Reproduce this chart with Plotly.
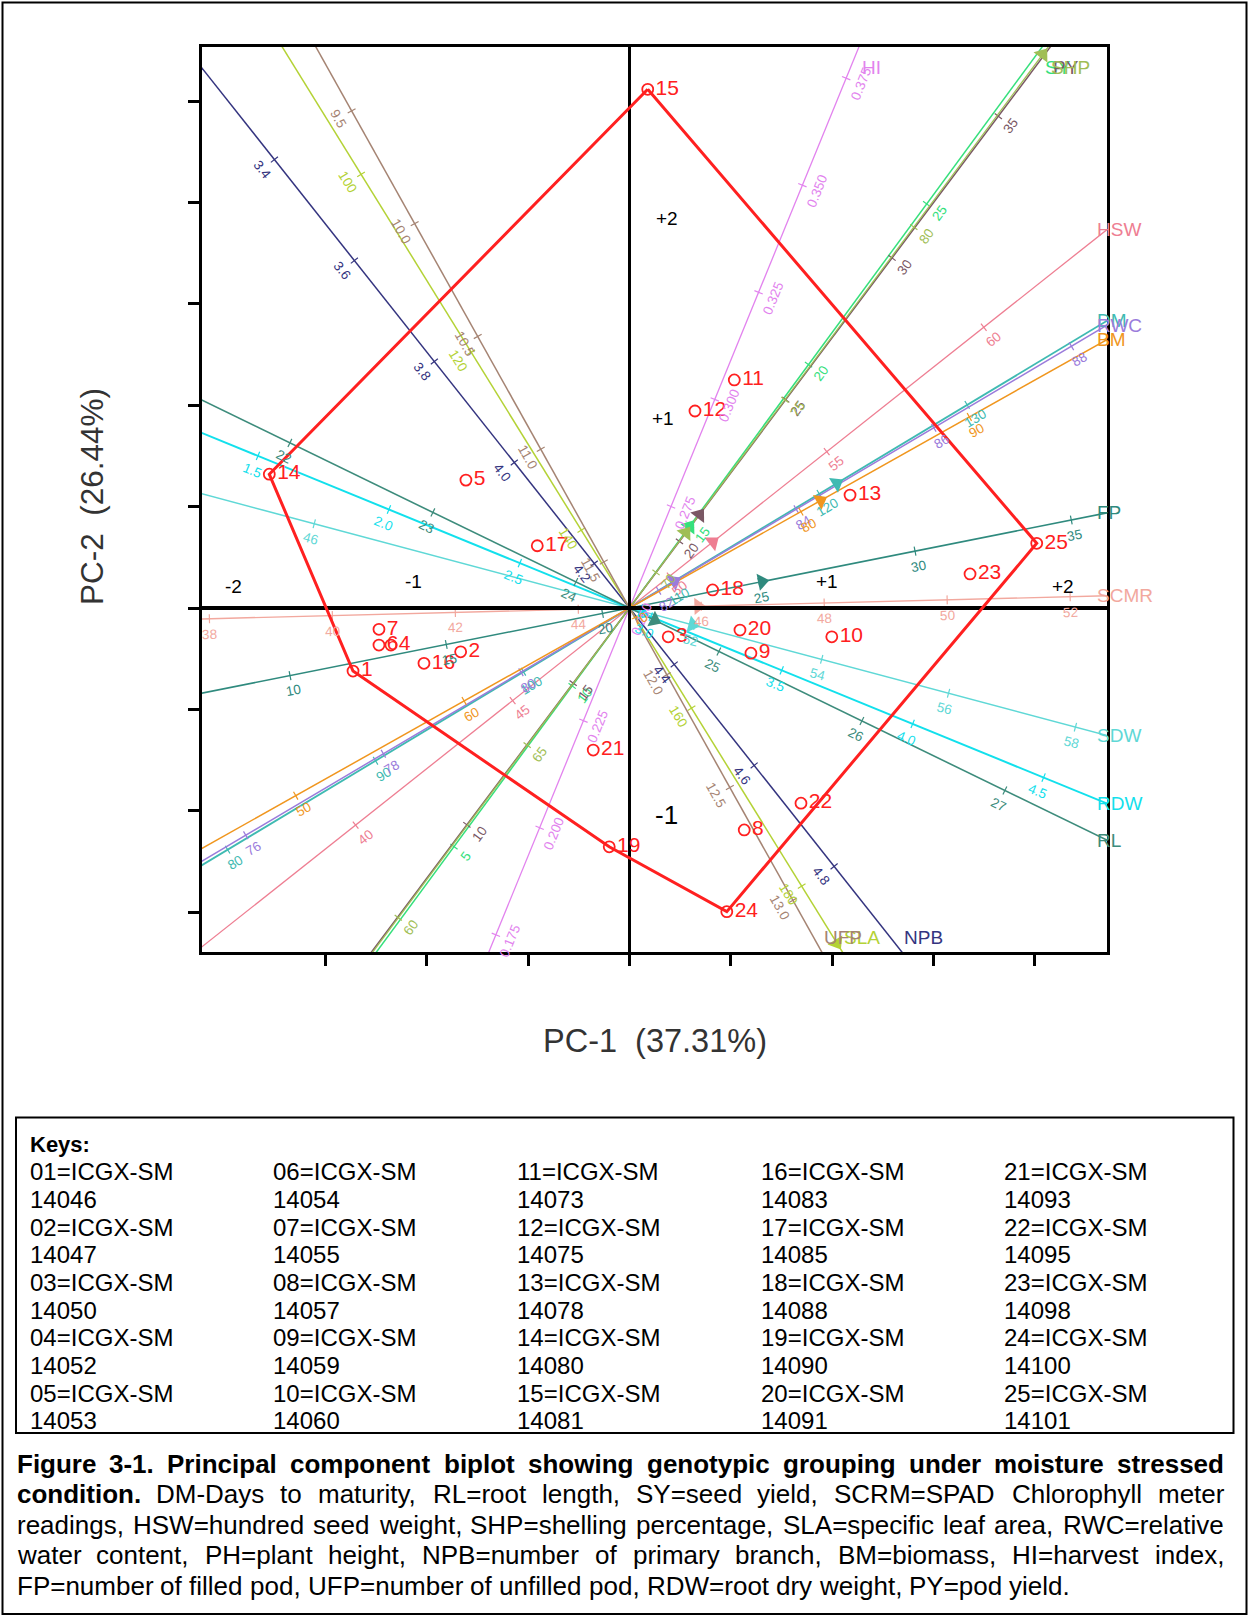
import math
import plotly.graph_objects as go

# ---------------- genotype scores (PC-1, PC-2) ----------------
genotype_ids = list(range(1, 26))
genotype_pc1 = [-1.364, -0.833, 0.191, -1.177, -0.807, -1.236, -1.236, 0.566, 0.599, 0.998,
                0.517, 0.323, 1.088, -1.777, 0.090, -1.014, -0.455, 0.410, -0.100, 0.545,
                -0.179, 0.846, 1.680, 0.480, 2.009]
genotype_pc2 = [-0.311, -0.216, -0.142, -0.183, 0.631, -0.183, -0.105, -1.095, -0.223, -0.142,
                1.125, 0.972, 0.557, 0.660, 2.559, -0.273, 0.307, 0.089, -1.178, -0.109,
                -0.701, -0.963, 0.168, -1.498, 0.319]
hull_ids = [15, 25, 24, 19, 1, 14, 15]

# ---------------- trait vectors (direction in PC space) ----------------
var_names = ["HI", "SY", "PY", "SHP", "HSW", "DM", "RWC", "BM", "FP", "SCMR", "SDW", "RDW", "RL", "NPB", "SLA", "UFP"]
var_pc1 = [1.129, 2.025, 2.070, 2.060, 2.337, 2.321, 2.330, 2.337, 2.305, 2.306, 2.313, 2.313, 2.337, 1.343, 1.038, 0.948]
var_pc2 = [2.761, 2.753, 2.760, 2.760, 1.852, 1.396, 1.380, 1.314, 0.459, 0.059, -0.618, -0.947, -1.136, -1.696, -1.677, -1.696]
# calibration of each biplot axis: value at origin and PC-units per trait unit
var_center = [0.2513, 12.426, 17.65, 68.97, 48.72, 107.17, 81.577, 69.82, 20.863, 44.833, 50.97, 2.9187, 24.375, 4.2882, 148.74, 11.704]
var_scale = [22.83, 0.1968, 0.1748, 0.2126, 0.1977, 0.08515, 0.3945, 0.09531, 0.1572, 0.3034, 0.3239, 1.396, 0.7844, 3.177, 0.05163, 1.2748]
var_ticks = [
    ["0.175", "0.200", "0.225", "0.250", "0.275", "0.300", "0.325", "0.350", "0.375"],
    ["5", "10", "15", "20", "25"],
    ["10", "15", "20", "25", "30", "35"],
    ["60", "65", "70", "75", "80"],
    ["40", "45", "50", "55", "60"],
    ["80", "90", "100", "110", "120", "130"],
    ["76", "78", "80", "82", "84", "86", "88"],
    ["50", "60", "70", "80", "90"],
    ["10", "15", "20", "25", "30", "35"],
    ["38", "40", "42", "44", "46", "48", "50", "52"],
    ["46", "52", "54", "56", "58"],
    ["1.5", "2.0", "2.5", "3.0", "3.5", "4.0", "4.5"],
    ["22", "23", "24", "25", "26", "27"],
    ["3.4", "3.6", "3.8", "4.0", "4.2", "4.4", "4.6", "4.8"],
    ["100", "120", "140", "160", "180"],
    ["9.5", "10.0", "10.5", "11.0", "11.5", "12.0", "12.5", "13.0"],
]
# arrow-head markers on trait axes (trait value)
arrow_vars = ["PY", "SY", "SHP", "SHP", "HSW", "DM", "BM", "RWC", "FP", "SCMR", "SDW", "RL", "RDW", "SLA"]
arrow_values = [20.94, 14.97, 71.15, 85.0, 51.37, 121.18, 81.16, 82.23, 25.10, 45.95, 51.96, 24.55, 2.968, 186.4]

# region labels
region_text = ["+2", "+1", "-1", "-2", "-1", "+1", "+2"]
region_x = [0.184, 0.167, 0.184, -1.955, -1.067, 0.973, 2.140]
region_y = [1.923, 0.936, -1.021, 0.105, 0.130, 0.130, 0.105]

# keys
key_codes = ["14046", "14047", "14050", "14052", "14053", "14054", "14055", "14057", "14059", "14060",
             "14073", "14075", "14078", "14080", "14081", "14083", "14085", "14088", "14090", "14091",
             "14093", "14095", "14098", "14100", "14101"]

caption_lines = [
    [("Figure 3-1. Principal component biplot showing genotypic grouping under moisture stressed", True)],
    [("condition.", True), ("DM-Days to maturity, RL=root length, SY=seed yield, SCRM=SPAD Chlorophyll meter", False)],
    [("readings, HSW=hundred seed weight, SHP=shelling percentage, SLA=specific leaf area, RWC=relative", False)],
    [("water content, PH=plant height, NPB=number of primary branch, BM=biomass, HI=harvest index,", False)],
    [("FP=number of filled pod, UFP=number of unfilled pod, RDW=root dry weight, PY=pod yield.", False)],
]

# ---------------- styles ----------------
var_colors = ["#E283EE", "#35E07C", "#7A5864", "#A0BE55", "#EE7E92", "#3FBAB2", "#9B7CDB", "#F0961E",
              "#2F8A7E", "#F2A89E", "#5FD8D6", "#12E0EC", "#3D8C7C", "#34347F", "#B4D236", "#A58473"]
var_lw = [1.3, 1.5, 1.5, 1.3, 1.3, 1.8, 1.5, 1.5, 1.6, 1.4, 1.5, 2.0, 1.6, 1.5, 1.5, 1.5]
FONT = "Liberation Sans, Arial, sans-serif"
RED = "#FF2020"

W, H = 1249, 1616
ML, MR, MT, MB = 202, 142, 47, 664
PX = 202.7
x_range = [(ML - 629.5) / PX, (W - MR - 629.5) / PX]
y_range = [(608 - (H - MB)) / PX, (608 - MT) / PX]


def P2X(px):
    return (px - ML) / (W - ML - MR)


def P2Y(py):
    return ((H - MB) - py) / (H - MT - MB)


fig = go.Figure()
ann = []


def inside(x, y, pad=0.0):
    return (x_range[0] + pad <= x <= x_range[1] - pad) and (y_range[0] + pad <= y <= y_range[1] - pad)


# ---------------- trait axes ----------------
name_to_idx = {n: i for i, n in enumerate(var_names)}
unit = []
for i, name in enumerate(var_names):
    L = math.hypot(var_pc1[i], var_pc2[i])
    ux, uy = var_pc1[i] / L, var_pc2[i] / L
    unit.append((ux, uy))
    theta = math.degrees(math.atan2(uy, ux))
    col = var_colors[i]
    fig.add_trace(go.Scatter(x=[-12 * ux, 12 * ux], y=[-12 * uy, 12 * uy], mode="lines",
                             line=dict(color=col, width=var_lw[i]), hoverinfo="skip"))
    tx, ty = [], []
    tl = 4.5 / PX
    off = 15.5 / PX
    for lab in var_ticks[i]:
        s = (float(lab) - var_center[i]) * var_scale[i]
        px, py = s * ux, s * uy
        if not inside(px, py, 0.02):
            continue
        nx, ny = -uy, ux
        tx += [px - tl * nx, px + tl * nx, None]
        ty += [py - tl * ny, py + tl * ny, None]
        ann.append(dict(x=px + off * uy, y=py - off * ux, xref="x", yref="y", text=lab,
                        showarrow=False, textangle=-theta, font=dict(size=13.5, color=col, family=FONT),
                        xanchor="center", yanchor="middle", borderpad=0, borderwidth=0))
    fig.add_trace(go.Scatter(x=tx, y=ty, mode="lines", line=dict(color=col, width=1.2), hoverinfo="skip"))
    # end label at frame
    cands = [x_range[1] / ux]
    if uy > 0:
        cands.append(y_range[1] / uy)
    else:
        cands.append(y_range[0] / uy)
    t = min(cands)
    hx, hy = t * ux, t * uy
    if t == cands[0]:
        lx, ly = x_range[1] - 10 / PX, hy
    elif uy > 0:
        lx, ly = hx + 3 / PX, y_range[1] - 20 / PX
    else:
        lx, ly = hx + 2 / PX, y_range[0] + 15 / PX
    ann.append(dict(x=lx, y=ly, xref="x", yref="y", text=name, showarrow=False,
                    font=dict(size=19, color=col, family=FONT), xanchor="left", yanchor="middle",
                    borderpad=0, borderwidth=0))

# arrow heads
for vname, val in zip(arrow_vars, arrow_values):
    i = name_to_idx[vname]
    ux, uy = unit[i]
    s = (val - var_center[i]) * var_scale[i]
    theta = math.degrees(math.atan2(uy, ux))
    fig.add_trace(go.Scatter(x=[s * ux], y=[s * uy], mode="markers",
                             marker=dict(symbol="triangle-up", size=15, color=var_colors[i],
                                         angle=90 - theta, line=dict(width=0)),
                             hoverinfo="skip"))

# cross-hair axes
fig.add_trace(go.Scatter(x=x_range, y=[0, 0], mode="lines", line=dict(color="black", width=4), hoverinfo="skip"))
fig.add_trace(go.Scatter(x=[0, 0], y=y_range, mode="lines", line=dict(color="black", width=3), hoverinfo="skip"))

# hull
hx = [genotype_pc1[g - 1] for g in hull_ids]
hy = [genotype_pc2[g - 1] for g in hull_ids]
fig.add_trace(go.Scatter(x=hx, y=hy, mode="lines", line=dict(color=RED, width=3), hoverinfo="skip"))

# genotypes
fig.add_trace(go.Scatter(x=genotype_pc1, y=genotype_pc2, mode="markers+text",
                         text=[str(g) for g in genotype_ids], textposition="middle right",
                         textfont=dict(size=21, color=RED, family=FONT),
                         marker=dict(symbol="circle-open", size=11, color=RED, line=dict(width=1.8)),
                         hoverinfo="skip"))

# region labels
for k, (t, x, y) in enumerate(zip(region_text, region_x, region_y)):
    ann.append(dict(x=x, y=y, xref="x", yref="y", text=t, showarrow=False,
                    font=dict(size=26 if k == 2 else 19, color="black", family=FONT),
                    xanchor="center", yanchor="middle"))

# axis titles
ann.append(dict(x=P2X(655.4), y=P2Y(1041), xref="paper", yref="paper",
                text="PC-1\u00a0\u00a0(37.31%)", showarrow=False,
                font=dict(size=32.5, color="#333333", family=FONT), xanchor="center", yanchor="middle"))
ann.append(dict(x=P2X(92), y=P2Y(497), xref="paper", yref="paper",
                text="PC-2\u00a0\u00a0(26.44%)", showarrow=False, textangle=-90,
                font=dict(size=31.5, color="#333333", family=FONT), xanchor="center", yanchor="middle"))

# ---------------- keys ----------------
ann.append(dict(x=P2X(30), y=P2Y(1144), xref="paper", yref="paper", text="<b>Keys:</b>",
                showarrow=False, font=dict(size=22, color="black", family=FONT),
                xanchor="left", yanchor="middle", borderpad=0, borderwidth=0))
col_x = [30, 273, 517, 760.5, 1003.5]
for idx, code in enumerate(key_codes):
    c, r = divmod(idx, 5)
    y1 = 1171.6 + (2 * r) * 27.7
    y2 = y1 + 27.7
    ann.append(dict(x=P2X(col_x[c]), y=P2Y(y1), xref="paper", yref="paper",
                    text="%02d=ICGX-SM" % (idx + 1), showarrow=False,
                    font=dict(size=24, color="black", family=FONT), xanchor="left", yanchor="middle",
                    borderpad=0, borderwidth=0))
    ann.append(dict(x=P2X(col_x[c]), y=P2Y(y2), xref="paper", yref="paper", text=code,
                    showarrow=False, font=dict(size=24, color="black", family=FONT),
                    xanchor="left", yanchor="middle", borderpad=0, borderwidth=0))

# ---------------- caption (justified) ----------------
REG = dict(zip("ABCDEFGHIJKLMNOPQRSTUVWXYZ",
               [667, 667, 722, 722, 667, 611, 778, 722, 278, 500, 667, 556, 833, 722, 778, 667, 778, 722, 667, 611, 722, 667, 944, 667, 667, 611]))
REG.update(zip("abcdefghijklmnopqrstuvwxyz",
               [556, 556, 500, 556, 556, 278, 556, 556, 222, 222, 500, 222, 833, 556, 556, 556, 556, 333, 500, 278, 556, 500, 722, 500, 500, 500]))
REG.update({ch: 556 for ch in "0123456789"})
REG.update({" ": 278, ".": 278, ",": 278, "-": 333, "=": 584, ":": 278})
BLD = dict(zip("ABCDEFGHIJKLMNOPQRSTUVWXYZ",
               [722, 722, 722, 722, 667, 611, 778, 722, 278, 556, 722, 611, 833, 722, 778, 667, 778, 722, 667, 611, 722, 667, 944, 667, 667, 611]))
BLD.update(zip("abcdefghijklmnopqrstuvwxyz",
               [556, 611, 556, 611, 556, 333, 611, 611, 278, 278, 556, 278, 889, 611, 611, 611, 611, 389, 556, 333, 611, 556, 778, 556, 556, 500]))
BLD.update({ch: 556 for ch in "0123456789"})
BLD.update({" ": 278, ".": 278, ",": 278, "-": 333, "=": 584, ":": 333})

CAP_SIZE = 26
cap_left, cap_right = 16.5, 1224.0
cap_y = [1463.5, 1494.3, 1524.8, 1555.2, 1585.8]


def wwidth(s, bold):
    tab = BLD if bold else REG
    return sum(tab.get(ch, 556) for ch in s) / 1000.0 * CAP_SIZE


for li, segs in enumerate(caption_lines):
    words = []
    for text, bold in segs:
        for w in text.split(" "):
            if w:
                words.append((w, bold))
    widths = [wwidth(w, b) for w, b in words]
    if li < len(caption_lines) - 1:
        gap = (cap_right - cap_left - sum(widths)) / (len(words) - 1)
    else:
        gap = 278 / 1000.0 * CAP_SIZE
    x = cap_left
    for (w, b), wd in zip(words, widths):
        ann.append(dict(x=P2X(x), y=P2Y(cap_y[li]), xref="paper", yref="paper",
                        text=("<b>%s</b>" % w) if b else w, showarrow=False,
                        font=dict(size=CAP_SIZE, color="black", family=FONT),
                        xanchor="left", yanchor="middle", borderpad=0, borderwidth=0))
        x += wd + gap

shapes = [
    dict(type="rect", xref="paper", yref="paper", x0=P2X(2.5), x1=P2X(1246.5), y0=P2Y(1614), y1=P2Y(2.5),
         line=dict(color="black", width=2)),
    dict(type="rect", xref="paper", yref="paper", x0=P2X(16), x1=P2X(1233.5), y0=P2Y(1433), y1=P2Y(1117.5),
         line=dict(color="black", width=2)),
]

axis_common = dict(showgrid=False, zeroline=False, showline=True, mirror=True, linecolor="black",
                   linewidth=3, ticks="outside", ticklen=11, tickwidth=3, tickcolor="black",
                   showticklabels=False, fixedrange=True)
fig.update_layout(
    width=W, height=H, autosize=False,
    margin=dict(l=ML, r=MR, t=MT, b=MB, pad=0),
    paper_bgcolor="white", plot_bgcolor="white", showlegend=False,
    xaxis=dict(range=x_range, tickvals=[-1.5, -1.0, -0.5, 0, 0.5, 1.0, 1.5, 2.0], **axis_common),
    yaxis=dict(range=y_range, tickvals=[-1.5, -1.0, -0.5, 0, 0.5, 1.0, 1.5, 2.0, 2.5], **axis_common),
    annotations=ann, shapes=shapes,
    font=dict(family=FONT),
)

fig.write_html("out.html", config={"displayModeBar": False},
               post_script="document.body.style.margin='0';")
